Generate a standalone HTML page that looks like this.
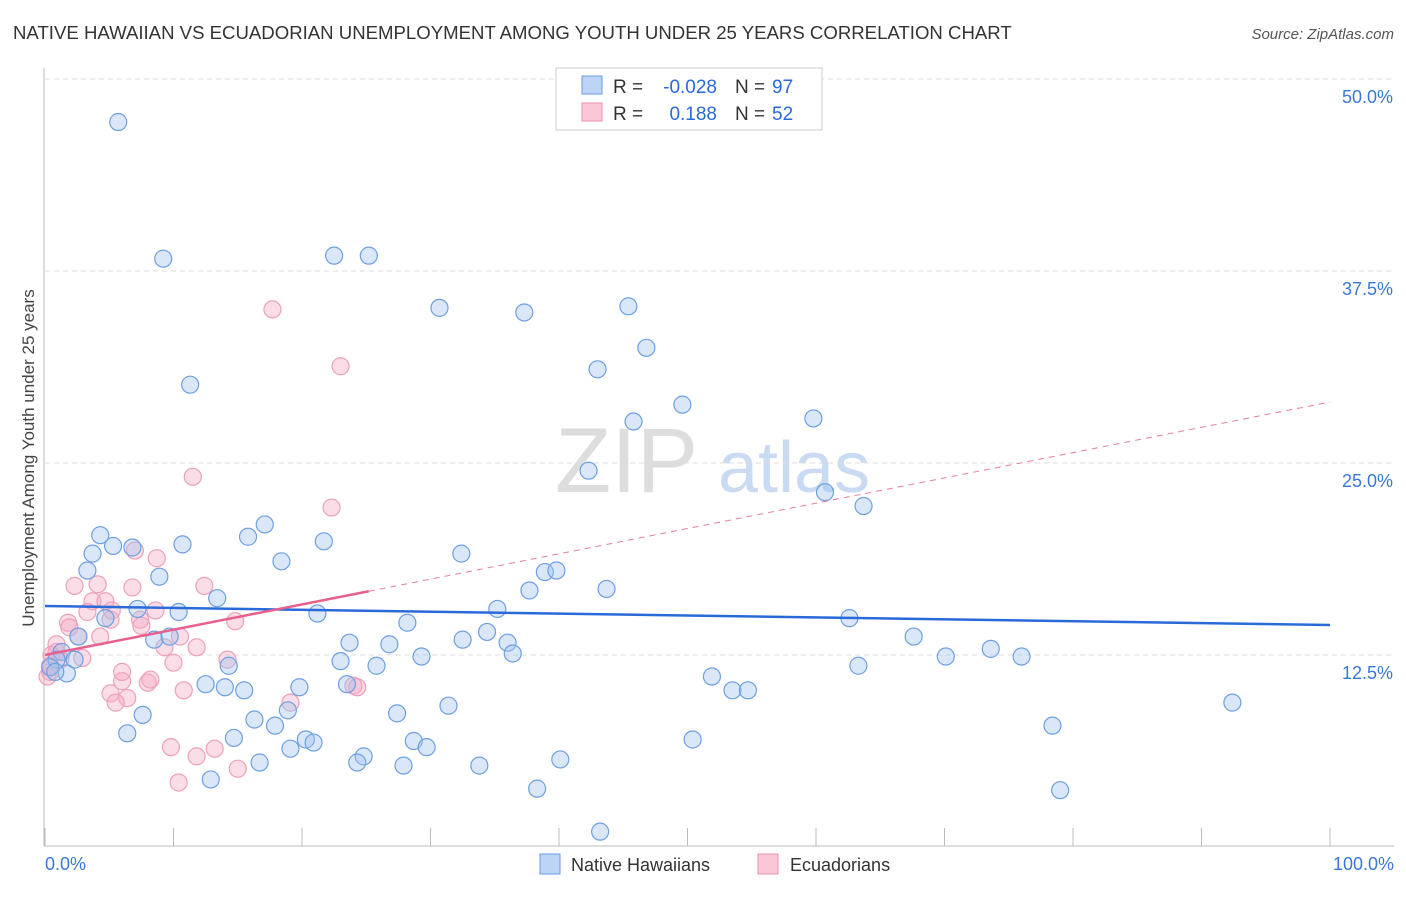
<!DOCTYPE html>
<html><head><meta charset="utf-8"><style>
body{margin:0;background:#fff;font-family:"Liberation Sans",sans-serif;}
svg text{font-family:"Liberation Sans",sans-serif;}
</style></head><body>
<svg id="chart" width="1406" height="892">
<text x="13" y="39" font-size="18.6" fill="#333">NATIVE HAWAIIAN VS ECUADORIAN UNEMPLOYMENT AMONG YOUTH UNDER 25 YEARS CORRELATION CHART</text>
<text x="1394" y="39" font-size="15" fill="#555" font-style="italic" text-anchor="end">Source: ZipAtlas.com</text>
<text x="0" y="0" transform="translate(34,458) rotate(-90)" font-size="17" fill="#444" text-anchor="middle">Unemployment Among Youth under 25 years</text>
<text x="555" y="492" font-size="92" fill="#ddd" font-family="Liberation Serif">ZIP</text>
<text x="718" y="492" font-size="72" fill="#c9daf3">atlas</text>
<g id="grid"></g><g id="pts"></g><g id="trend"></g>
<g font-size="19">
<rect x="556" y="68" width="266" height="62" fill="#fff" stroke="#ccc"/>
<rect x="582" y="76" width="20" height="18" fill="#bcd4f5" stroke="#6a9be0"/>
<rect x="582" y="103" width="20" height="18" fill="#f9c8d7" stroke="#ec8fb0"/>
<text x="613" y="93" fill="#333">R =</text>
<text x="717" y="93" fill="#2a6ad8" text-anchor="end">-0.028</text>
<text x="735" y="93" fill="#333">N =</text>
<text x="772" y="93" fill="#2a6ad8">97</text>
<text x="613" y="120" fill="#333">R =</text>
<text x="717" y="120" fill="#2a6ad8" text-anchor="end">0.188</text>
<text x="735" y="120" fill="#333">N =</text>
<text x="772" y="120" fill="#2a6ad8">52</text>
</g>
<g>
<rect x="540" y="854" width="20" height="20" fill="#bcd4f5" stroke="#6a9be0"/>
<text x="571" y="871" font-size="18" fill="#333">Native Hawaiians</text>
<rect x="758" y="854" width="20" height="20" fill="#f9c8d7" stroke="#ec8fb0"/>
<text x="790" y="871" font-size="18" fill="#333">Ecuadorians</text>
</g>
</svg>
<script>
const yTicks=[12.5,25,37.5,50];
const yTickLabels=["12.5%","25.0%","37.5%","50.0%"];
const xTicks=[0,10,20,30,40,50,60,70,80,90,100];
const blueXpx=[118,163,334,369,190,439,524,628,598,647,682,633,814,589,825,864,100,93,113,133,183,265,248,324,461,281,87,160,545,556,530,607,217,138,178,105,318,497,849,407,78,154,170,350,462,487,507,390,914,62,57,74,50,67,55,340,376,421,513,946,991,1021,858,229,712,205,225,244,300,347,733,748,449,1232,143,288,397,255,275,1053,127,234,306,313,414,693,290,427,364,357,560,259,403,479,211,537,1060];
const blueYpx=[122,258,256,256,385,308,313,307,370,348,404,422,418,470,492,506,535,553,546,548,545,525,536,541,554,562,571,577,572,571,591,589,598,609,612,618,614,609,618,622,636,640,636,642,639,632,642,645,637,652,660,660,668,674,672,661,665,656,654,656,649,656,665,666,676,684,688,691,688,684,690,690,705,703,715,711,714,719,726,726,733,738,740,742,741,739,748,747,756,763,760,763,765,765,780,788,790];
const pinkXpx=[273,341,193,332,135,157,75,98,132,204,93,105,112,155,68,110,140,142,180,235,100,78,165,197,57,52,61,82,227,173,50,48,122,148,110,127,116,184,353,357,290,171,214,197,238,178,50,56,150,122,70,88];
const pinkYpx=[310,367,477,508,551,558,586,585,588,586,601,601,610,611,622,620,619,626,636,621,637,637,648,648,645,655,660,658,660,662,672,677,681,683,693,698,703,690,686,688,703,747,748,756,768,782,665,652,680,672,628,612];
const blueX=blueXpx.map(p=>+((p-45)/12.85).toFixed(1));
const blueY=blueYpx.map(p=>+((847-p)/15.36).toFixed(1));
blueX.push(43.2);blueY.push(1.0);
const pinkX=pinkXpx.map(p=>+((p-45)/12.85).toFixed(1));
const pinkY=pinkYpx.map(p=>+((847-p)/15.36).toFixed(1));
const blueTrend=[15.69,14.45];
const pinkTrend=[12.5,28.97];
const pinkSolidEnd=25.2;

const X=v=>45+v*12.85, Y=v=>847-v*15.36;
const NS="http://www.w3.org/2000/svg";
function mk(tag,attrs,parent){const e=document.createElementNS(NS,tag);for(const k in attrs)e.setAttribute(k,attrs[k]);parent.appendChild(e);return e;}
const grid=document.getElementById('grid');
yTicks.forEach((t,i)=>{
 const l=mk('line',{x1:45,x2:1394,y1:Y(t),y2:Y(t),stroke:'#ddd','stroke-dasharray':'5,4'},grid);
 
 
 const tx=mk('text',{x:1393,y:Y(t)+24,'font-size':18,fill:'#3a78d8','text-anchor':'end'},grid);
 tx.textContent=yTickLabels[i];
 
 
});
const ax=mk('line',{x1:44,x2:44,y1:68,y2:846,stroke:'#bbb'},grid);


const bx=mk('line',{x1:44,x2:1394,y1:846,y2:846,stroke:'#bbb'},grid);


xTicks.forEach(t=>{const l=mk('line',{x1:X(t),x2:X(t),y1:828,y2:846,stroke:'#bbb'},grid);
 
 });
[["0.0%",45,'start'],["100.0%",1394,'end']].forEach(a=>{const t=mk('text',{x:a[1],y:870,'font-size':18,fill:'#3a78d8','text-anchor':a[2]},grid);t.textContent=a[0];
 
 });
const pts=document.getElementById('pts');
pinkX.forEach((x,i)=>{const c=mk('circle',{cx:X(x),cy:Y(pinkY[i]),r:8.5,fill:'rgba(246,170,195,0.4)',stroke:'#eda0ba','stroke-width':1.2},pts);
 
 });
blueX.forEach((x,i)=>{const c=mk('circle',{cx:X(x),cy:Y(blueY[i]),r:8.5,fill:'rgba(160,195,240,0.4)',stroke:'#6d9fe3','stroke-width':1.2},pts);
 
 });
const tr=document.getElementById('trend');
const pv=x=>pinkTrend[0]+(pinkTrend[1]-pinkTrend[0])*x/100;
const l1=mk('line',{x1:X(0),y1:Y(blueTrend[0]),x2:X(100),y2:Y(blueTrend[1]),stroke:'#2a6ad8','stroke-width':2.5},tr);


const l2=mk('line',{x1:X(0),y1:Y(pv(0)),x2:X(pinkSolidEnd),y2:Y(pv(pinkSolidEnd)),stroke:'#e8608c','stroke-width':2.5},tr);


const l3=mk('line',{x1:X(pinkSolidEnd),y1:Y(pv(pinkSolidEnd)),x2:X(100),y2:Y(pv(100)),stroke:'#e8809f','stroke-width':1,'stroke-dasharray':'6,5'},tr);


</script>
</body></html>
